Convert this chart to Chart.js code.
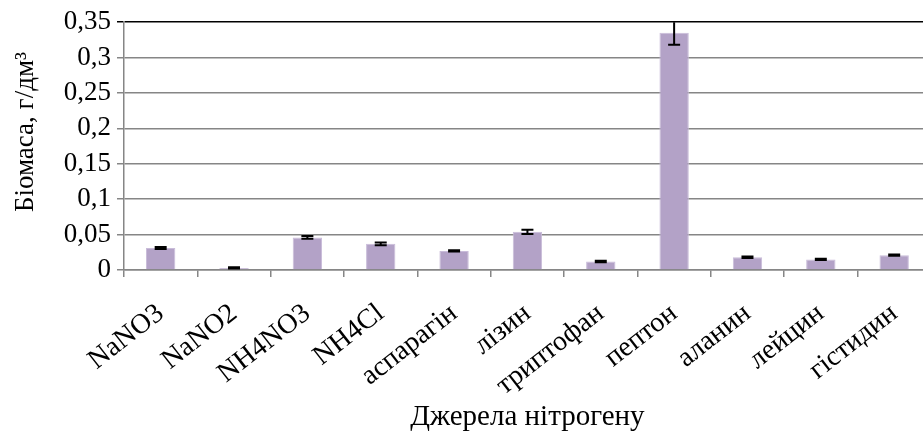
<!DOCTYPE html>
<html>
<head>
<meta charset="utf-8">
<script src="https://cdn.jsdelivr.net/npm/chart.js@4.4.1/dist/chart.umd.min.js"></script>
<style>
  html, body { margin: 0; padding: 0; background: #fff; overflow: hidden; }
  #wrap { width: 935px; height: 436px; }
</style>
</head>
<body>
<div id="wrap"><canvas id="c" width="935" height="436"></canvas></div>
<script>
// Nitrogen sources tested
const categories = ['NaNO3', 'NaNO2', 'NH4NO3', 'NH4Cl', 'аспарагін', 'лізин', 'триптофан', 'пептон', 'аланин', 'лейцин', 'гістидин'];
// Biomass, g/dm3
const biomass = [0.031, 0.003, 0.046, 0.037, 0.027, 0.054, 0.012, 0.335, 0.018, 0.015, 0.021];
// Standard error for each bar
const errors = [0.0015, 0.001, 0.002, 0.002, 0.001, 0.003, 0.001, 0.017, 0.001, 0.001, 0.001];
// Value axis ticks
const yTicks = [0, 0.05, 0.1, 0.15, 0.2, 0.25, 0.3, 0.35];
const yTitle = 'Біомаса, г/дм³';
const xTitle = 'Джерела нітрогену';

const FONT = '"Liberation Serif", "Times New Roman", serif';

// Error bars (clipped to the plot area)
const errorBars = {
  id: 'errorBars',
  afterDatasetsDraw(chart) {
    const { ctx, chartArea, scales } = chart;
    const meta = chart.getDatasetMeta(0);
    ctx.save();
    ctx.beginPath();
    ctx.rect(chartArea.left, chartArea.top, chartArea.right - chartArea.left, chartArea.bottom - chartArea.top);
    ctx.clip();
    ctx.strokeStyle = '#000';
    ctx.lineWidth = 2;
    meta.data.forEach((bar, i) => {
      const x = bar.x;
      const yHi = scales.y.getPixelForValue(biomass[i] + errors[i]);
      const yLo = scales.y.getPixelForValue(biomass[i] - errors[i]);
      const cap = 6;
      ctx.beginPath();
      ctx.moveTo(x, yHi); ctx.lineTo(x, yLo);
      ctx.moveTo(x - cap, yHi); ctx.lineTo(x + cap, yHi);
      ctx.moveTo(x - cap, yLo); ctx.lineTo(x + cap, yLo);
      ctx.stroke();
    });
    ctx.restore();
  }
};

// Vertical value-axis title
const valueTitle = {
  id: 'valueTitle',
  afterDraw(chart) {
    const { ctx } = chart;
    ctx.save();
    ctx.translate(26, 132);
    ctx.rotate(-Math.PI / 2);
    ctx.font = '27px ' + FONT;
    ctx.fillStyle = '#000';
    ctx.textAlign = 'center';
    ctx.textBaseline = 'middle';
    ctx.fillText(yTitle, 0, 0);
    ctx.restore();
  }
};

new Chart(document.getElementById('c'), {
  type: 'bar',
  data: {
    labels: categories,
    datasets: [{
      data: biomass,
      backgroundColor: '#b3a2c7',
      borderColor: '#c9bcd9',
      borderWidth: 1,
      categoryPercentage: 1,
      barPercentage: 0.4
    }]
  },
  options: {
    responsive: false,
    animation: false,
    devicePixelRatio: 1,
    layout: { padding: { top: 20, right: 3, bottom: 0, left: 0 } },
    plugins: { legend: { display: false }, tooltip: { enabled: false } },
    scales: {
      x: {
        offset: true,
        grid: {
          offset: true,
          drawOnChartArea: false,
          color: '#868686',
          tickLength: 7,
          lineWidth: 1.5
        },
        border: { color: '#868686', width: 1.5 },
        ticks: {
          font: { family: FONT, size: 28 },
          color: '#000',
          minRotation: 38,
          maxRotation: 38,
          padding: 20,
          autoSkip: false
        },
        title: {
          display: true,
          text: xTitle,
          font: { family: FONT, size: 29 },
          color: '#000',
          padding: { top: 4, bottom: 1 }
        },
        afterFit(scale) { scale.height = 166; }
      },
      y: {
        min: 0,
        max: 0.35,
        afterBuildTicks(scale) { scale.ticks = yTicks.map(v => ({ value: v })); },
        grid: {
          color: ctx => (ctx.tick && ctx.tick.value === 0.35) ? '#000' : '#868686',
          lineWidth: 1.5,
          tickLength: 7
        },
        border: { color: '#868686', width: 1.5 },
        ticks: {
          font: { family: FONT, size: 27 },
          color: '#000',
          padding: 6,
          callback: v => String(Number(v.toFixed(2))).replace('.', ',')
        },
        afterFit(scale) { scale.width = 124; }
      }
    }
  },
  plugins: [errorBars, valueTitle]
});
</script>
</body>
</html>
